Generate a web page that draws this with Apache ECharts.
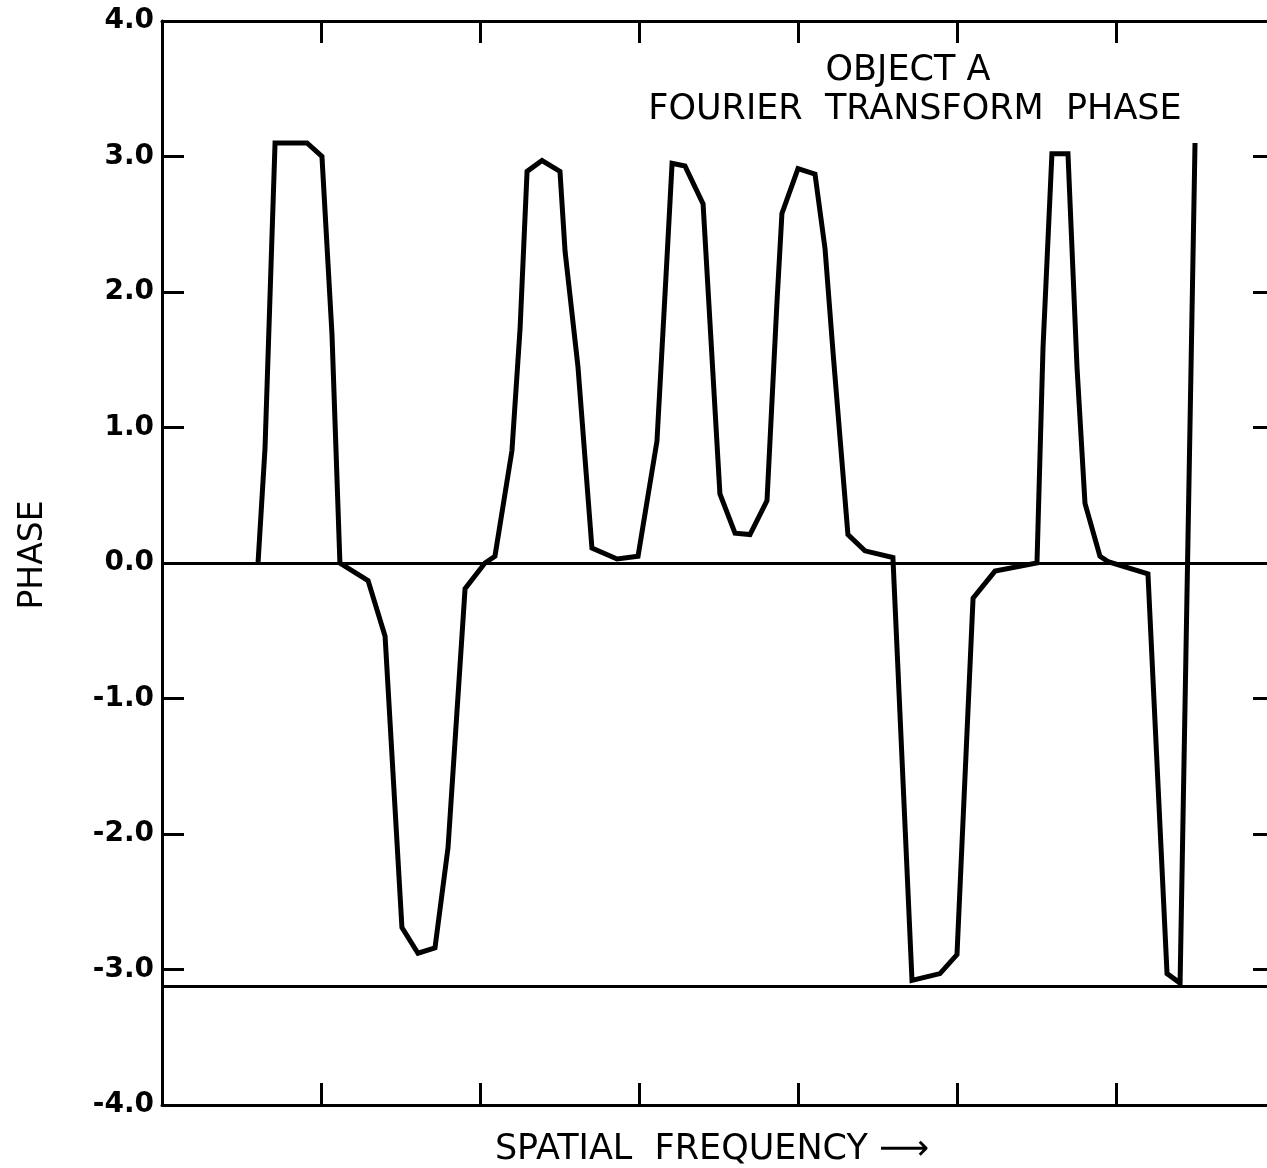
<!DOCTYPE html>
<html>
<head>
<meta charset="utf-8">
<script src="https://cdn.jsdelivr.net/npm/echarts@6/dist/echarts.min.js"></script>
<style>
html,body{margin:0;padding:0;background:#fff;overflow:hidden;}
#chart{width:1280px;height:1168px;}
</style>
</head>
<body>
<div id="chart"></div>
<script>
// Spatial frequency (in tick units) and phase values
const freq = [0.604,0.648,0.711,0.912,1.006,1.069,1.119,1.296,1.403,1.509,1.610,1.717,1.799,1.906,2.031,2.094,2.201,2.252,2.296,2.390,2.503,2.535,2.616,2.704,2.862,2.994,3.113,3.176,3.208,3.289,3.403,3.509,3.604,3.698,3.805,3.868,3.899,4.000,4.107,4.170,4.220,4.314,4.421,4.597,4.717,4.893,5.000,5.101,5.239,5.503,5.541,5.597,5.698,5.755,5.805,5.899,5.950,6.201,6.321,6.403,6.497];
const phase = [0.00,0.85,3.10,3.10,3.00,1.69,0.00,-0.13,-0.54,-2.69,-2.88,-2.84,-2.10,-0.19,0.00,0.05,0.83,1.73,2.89,2.97,2.89,2.30,1.45,0.11,0.03,0.05,0.90,2.25,2.95,2.93,2.65,0.51,0.22,0.21,0.46,1.93,2.58,2.91,2.87,2.32,1.56,0.21,0.09,0.04,-3.08,-3.03,-2.89,-0.26,-0.06,0.00,1.59,3.02,3.02,1.44,0.44,0.05,0.01,-0.08,-3.03,-3.10,3.10];
const refLines = [0, -3.12];
const yTickValues = [-4,-3,-2,-1,0,1,2,3,4];
const titleLines = ["OBJECT A", "FOURIER  TRANSFORM  PHASE"];
const xAxisTitle = "SPATIAL  FREQUENCY ⟶";
const yAxisTitle = "PHASE";

const chart = echarts.init(document.getElementById('chart'), null, {renderer:'canvas'});
const points = freq.map((f,i)=>[f, phase[i]]);
const axisLine = {show:true, onZero:false, lineStyle:{color:'#000', width:3}};
const tick = {show:true, inside:true, length:22, lineStyle:{color:'#000', width:3}};
const font = '"DejaVu Sans", sans-serif';

chart.setOption({
  animation:false,
  backgroundColor:'#fff',
  grid:{left:162, right:5, top:21, bottom:63, containLabel:false},
  xAxis:[
    {type:'value', position:'bottom', min:0, max:7, interval:1, axisLine, axisTick:tick, axisLabel:{show:false}, splitLine:{show:false}},
    {type:'value', position:'top', min:0, max:7, interval:1, axisLine, axisTick:tick, axisLabel:{show:false}, splitLine:{show:false}}
  ],
  yAxis:[
    {type:'value', position:'left', min:-4, max:4, interval:1, axisLine, axisTick:tick, splitLine:{show:false},
     axisLabel:{show:true, margin:8, color:'#000', fontFamily:font, fontWeight:'bold', fontSize:28,
       formatter:v=> yTickValues.includes(v) ? v.toFixed(1) : ''}},
    {type:'value', position:'right', min:-4, max:4, interval:1, axisLine, axisTick:tick, axisLabel:{show:false}, splitLine:{show:false}}
  ],
  series:[{
    type:'line', data:points, symbol:'none', xAxisIndex:0, yAxisIndex:0,
    lineStyle:{color:'#000', width:5, join:'miter'},
    markLine:{silent:true, symbol:['none','none'], label:{show:false},
      lineStyle:{color:'#000', width:3, type:'solid'},
      data: refLines.map(v=>({yAxis:v}))}
  }],
  graphic:[
    {type:'text', x:908, y:71, style:{text:titleLines[0], font:'35px '+font, fill:'#000', textAlign:'center', textVerticalAlign:'middle'}},
    {type:'text', x:915, y:110, style:{text:titleLines[1], font:'35px '+font, fill:'#000', textAlign:'center', textVerticalAlign:'middle'}},
    {type:'text', x:712, y:1150, style:{text:xAxisTitle, font:'35px '+font, fill:'#000', textAlign:'center', textVerticalAlign:'middle'}},
    {type:'text', x:33, y:555, rotation:Math.PI/2, style:{text:yAxisTitle, font:'33px '+font, fill:'#000', textAlign:'center', textVerticalAlign:'middle'}}
  ]
});
</script>
</body>
</html>
